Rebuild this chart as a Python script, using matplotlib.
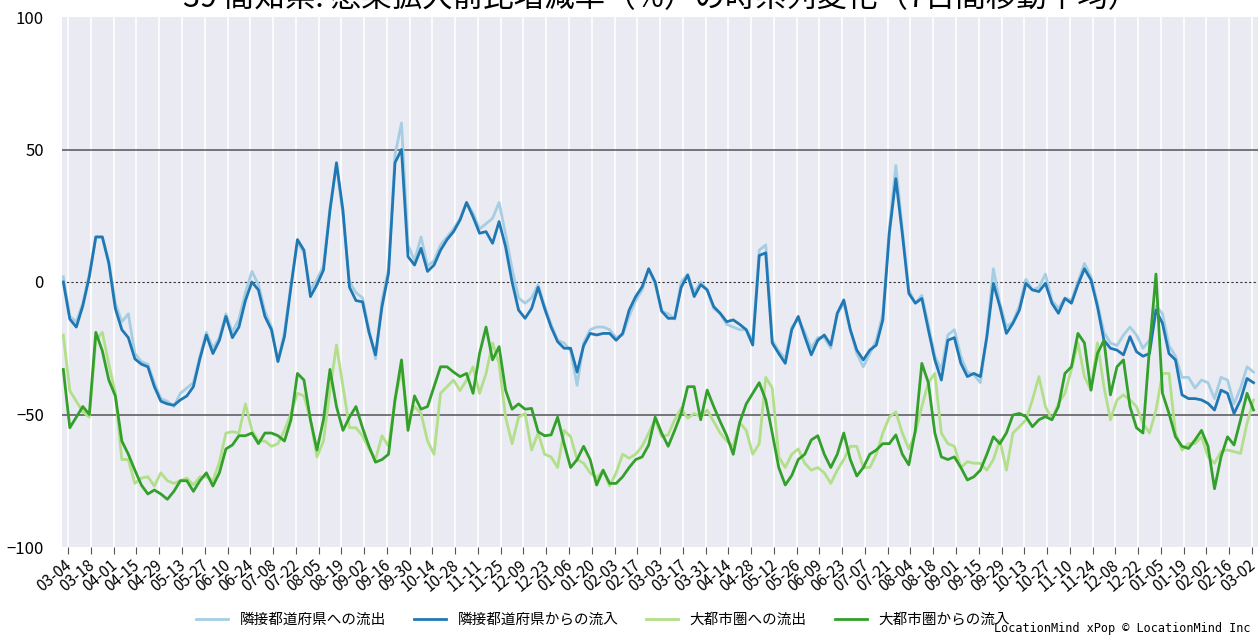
import matplotlib
matplotlib.use('Agg')
import matplotlib.pyplot as plt
import matplotlib.dates as mdates
import matplotlib.transforms as mtransforms
import pandas as pd

plt.rcParams['font.family'] = ['Noto Sans CJK JP', 'DejaVu Sans']

title = '39 高知県: 感染拡大前比増減率（%）の時系列変化（7日間移動平均）'
labels = ['隣接都道府県への流出', '隣接都道府県からの流入', '大都市圏への流出', '大都市圏からの流入']
colors = ['#a6cee3', '#1f78b4', '#b2df8a', '#33a02c']

# values read every 4 days starting 2020-03-01
out_adjacent = [
    2, -13, -15, -8, 3, 17, 17, 8, -8, -15, -12, -27, -30, -31, -38, -44, -45, -47, -42, -40,
    -38, -28, -19, -25, -21, -12, -19, -14, -4, 4, -1, -11, -17, -30, -19, -1, 15, 11, -3, 1,
    6, 28, 44, 25, 0, -4, -6, -18, -29, -7, 5, 48, 60, 14, 8, 17, 6, 8, 14, 17,
    20, 24, 30, 26, 20, 22, 24, 30, 18, 5, -6, -8, -6, -1, -9, -16, -22, -23, -26, -39,
    -23, -18, -17, -17, -18, -21, -20, -13, -7, -3, 5, -1, -11, -12, -14, 0, 3, -4, 0, -3,
    -10, -12, -16, -17, -18, -18, -22, 12, 14, -22, -26, -29, -17, -14, -19, -25, -21, -21, -25, -12,
    -8, -18, -27, -32, -27, -22, -12, 20, 44, 20, -3, -8, -5, -16, -28, -33, -20, -18, -28, -34,
    -35, -38, -20, 5, -8, -17, -15, -9, 1, -3, -2, 3, -7, -10, -6, -7, 0, 7, 2, -8,
    -19, -23, -24, -20, -17, -20, -25, -22, -9, -12, -24, -28, -36, -36, -40, -37, -38, -44, -36, -37,
    -46, -40, -32, -34,
]
in_adjacent = [
    0, -14, -17, -9, 2, 17, 17, 7, -10, -18, -21, -29, -31, -32, -39.5, -45, -46, -46.5, -44.5, -43,
    -39.5, -29, -20, -27, -22, -13, -21, -17, -7, 0, -3, -13, -18, -30, -20.6, -2, 16, 12, -5.5, -1,
    4.5, 27, 45, 27, -2, -7, -7.5, -19, -27.5, -9.3, 3.3, 45, 50, 9.6, 6.4, 12.7, 4, 6.4, 12, 16,
    19, 23.4, 30, 24.6, 18.4, 19, 14.6, 22.8, 13.3, 0, -10.6, -13.7, -10, -2, -10, -17, -22.5, -25, -25, -34,
    -24, -19.4, -20, -19.4, -19.4, -22, -19.4, -10.6, -5.5, -1.8, 5, 0, -11, -13.7, -13.7, -2, 2.6, -5.5, -1, -3,
    -9.3, -11.8, -15, -14.3, -16, -18, -23.8, 10, 11, -23, -27, -30.7, -18, -13, -20.6, -27.5, -22, -20, -23.8, -11.8,
    -6.8, -18, -25.7, -29.4, -25.7, -23.8, -14.3, 18.4, 39, 18.2, -4.3, -8, -6.2, -18, -29.4, -37, -22, -21, -30.7, -35.7,
    -34.5, -35.7, -20.6, -0.5, -9.3, -19.4, -15.6, -10.6, -0.5, -3, -3.6, -0.5, -8, -11.8, -6.2, -8, -1, 5, 0.8, -9.3,
    -22, -25, -25.7, -27.5, -20.6, -26.3, -28, -27, -10.6, -15.6, -27, -29.4, -42.6, -44, -44, -44.5, -45.8, -48.3, -40.8, -42,
    -49.6, -44.5, -36.4, -38,
]
out_metro = [
    -20, -41, -45, -49, -51, -22, -19, -31, -42, -67, -67, -76, -74, -73.5, -77, -72, -75, -76, -75, -74,
    -76.6, -73.5, -73.5, -75, -68, -57, -56.5, -57, -46, -56, -60, -60, -62, -61, -56, -49.6, -42, -43, -52, -66,
    -60, -41, -23.8, -39.5, -55, -55, -58, -63, -67, -58, -62, -44.5, -33, -52, -47, -49.6, -60, -65, -42, -39.5,
    -37, -41, -37, -32, -42, -34.5, -23, -30.7, -51, -61, -51, -49.6, -63.4, -57, -65, -66, -70, -56, -58.4, -67,
    -68.4, -72, -74, -71, -77, -72, -65, -66.5, -65, -62, -57, -52, -58.4, -57.7, -52, -47.7, -51.4, -49.6, -50.8, -48.3,
    -52.7, -57, -60, -62, -53, -56, -65, -61, -36, -40, -66, -70, -65, -63, -68.4, -71, -70, -72, -76, -71,
    -67, -62, -62, -70, -70, -65, -57, -51, -49, -57, -63, -57, -47, -38, -34.5, -57, -61, -62, -70, -67.8,
    -68.4, -68.4, -71, -67, -59.6, -71, -57, -54.6, -52, -44.5, -35.7, -47, -52, -45.8, -42, -33, -23, -35.7, -40.8, -23,
    -39.5, -52, -44.5, -42.6, -44.5, -47, -53.3, -57, -48.3, -34.5, -34.5, -57, -63.4, -61, -61, -58.4, -66, -68.4, -64, -63.4,
    -64, -64.7, -53.3, -44.5,
]
in_metro = [
    -33, -55, -51, -47, -50, -19, -26, -37, -43, -60, -65, -71, -76.6, -80, -78.5, -80, -82, -79, -75, -75,
    -79, -75, -72, -77, -72, -63, -61.5, -58, -58, -57, -61, -57, -57, -58, -60, -52, -34.5, -37, -52, -63.4,
    -52, -33, -47, -56, -51, -47, -55, -62, -68, -67, -65, -44.5, -29.4, -56, -43, -48, -47, -39.5, -32, -32,
    -34, -35.7, -34.5, -42, -27, -17, -29.4, -24.4, -40.8, -48, -46, -48, -47.7, -56.5, -58, -57.7, -51, -61, -70, -67,
    -62, -67, -76.6, -71, -76, -76, -73.5, -70, -67, -66, -61.5, -51, -57, -62, -56, -49.6, -39.5, -39.5, -52, -40.8,
    -47, -52.7, -58, -65, -53, -46, -42, -38, -44.5, -57, -70, -76.6, -73, -67, -65, -59.6, -58, -65, -70, -65,
    -57, -67, -73.2, -70, -65, -63.4, -61, -61, -57.7, -65, -69, -56, -30.7, -38, -57, -66, -67, -66, -70, -74.7,
    -73.5, -71, -65, -58.4, -61, -57, -50.2, -49.6, -50.8, -54.6, -52, -50.8, -52, -47, -34.5, -32, -19.4, -23, -40.8, -27,
    -22, -42.6, -32, -29.4, -47, -55, -57, -25, 3, -42, -49.6, -58.4, -62, -62.8, -59.6, -56, -62, -78, -66, -58.4,
    -61.5, -52, -42, -48.3,
]

dates = pd.date_range('2020-03-01', periods=len(in_adjacent), freq='4D')
tick_dates = pd.date_range('2020-03-04', '2022-03-02', freq='14D')

fig = plt.figure(figsize=(12.58, 6.37), dpi=100)
ax = fig.add_axes([62 / 1258, 1 - 547 / 637, 1200 / 1258, 530 / 637])
ax.set_facecolor('#eaeaf2')

for vals, lab, col in zip([out_adjacent, in_adjacent, out_metro, in_metro], labels, colors):
    ax.plot(dates, vals, color=col, lw=2, label=lab)

ax.axhline(50, color='#555555', lw=1.1, zorder=1)
ax.axhline(-50, color='#555555', lw=1.1, zorder=1)
ax.axhline(0, color='#333333', lw=0.8, ls=(0, (2, 2)), zorder=1)

start = mdates.date2num(pd.Timestamp('2020-03-04'))
ax.set_xlim(start - 3.8, start - 3.8 + 738)
ax.set_ylim(-100, 100)
ax.set_yticks([-100, -50, 0, 50, 100])
ax.set_yticklabels(['−100', '−50', '0', '50', '100'])

ax.set_xticks(tick_dates)
ax.xaxis.set_major_formatter(mdates.DateFormatter('%m-%d'))
ax.grid(axis='x', color='white', lw=1.2, zorder=0)
ax.set_axisbelow(True)
for s in ax.spines.values():
    s.set_visible(False)

ax.tick_params(axis='y', length=0, pad=13, labelsize=12)
ax.tick_params(axis='x', length=5, color='#555555', width=0.8, labelsize=11, pad=2)
shift = mtransforms.ScaledTranslation(-4 / 100, 0, fig.dpi_scale_trans)
for lbl in ax.get_xticklabels():
    lbl.set_rotation(40)
    lbl.set_ha('right')
    lbl.set_rotation_mode('anchor')
    lbl.set_transform(lbl.get_transform() + shift)

fig.text(0.525, 1 - 14 / 637, title, ha='center', va='bottom', fontsize=22)

fig.legend(loc='center', bbox_to_anchor=(603 / 1258, 1 - 620 / 637), ncol=4, frameon=False,
           fontsize=10.5, handlelength=2.2, columnspacing=1.9)

fig.text(994 / 1258, 0.003, 'LocationMind xPop © LocationMind Inc', family='DejaVu Sans Mono',
         fontsize=8.6, ha='left', va='bottom')

fig.savefig('out.png', dpi=100)
